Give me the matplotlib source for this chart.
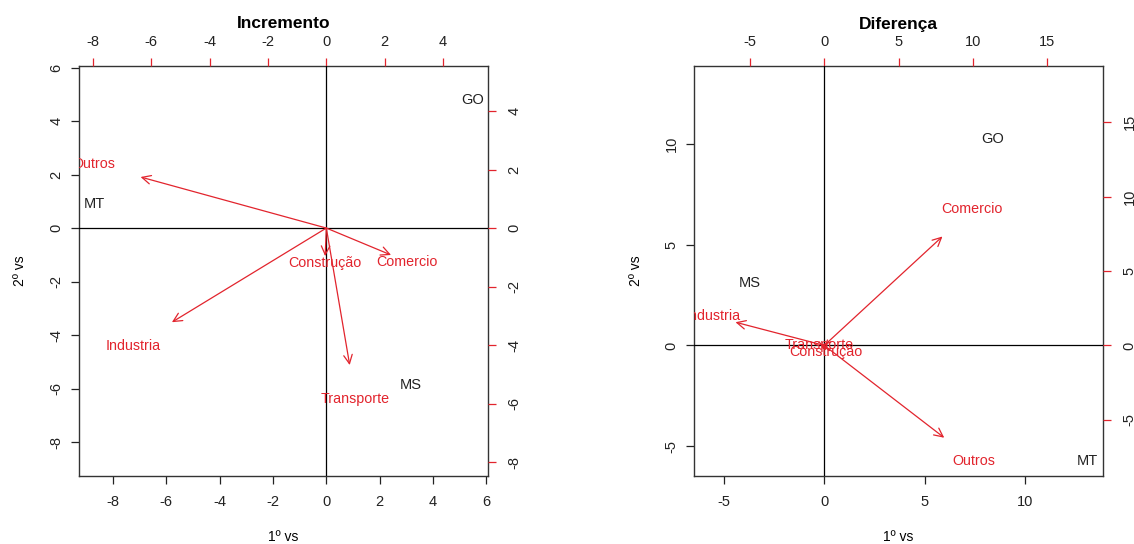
import matplotlib
matplotlib.use("Agg")
import matplotlib.pyplot as plt
import numpy as np

plt.rcParams['font.family'] = ['Liberation Sans', 'DejaVu Sans']
plt.rcParams['axes.unicode_minus'] = False

# scores (black labels) and loadings (red arrows)
states = ["GO", "MT", "MS"]
sectors = ["Comercio", "Construção", "Industria", "Outros", "Transporte"]

inc_scores_x = [5.49, -8.70, 3.18]
inc_scores_y = [4.80, 0.90, -5.85]
inc_load_x = [2.77, -0.05, -6.61, -7.95, 1.00]
inc_load_y = [-1.15, -1.20, -4.02, 2.18, -5.85]

dif_scores_x = [8.38, 13.10, -3.71]
dif_scores_y = [10.23, -5.72, 3.10]
dif_load_x = [9.95, 0.10, -7.47, 10.10, -0.35]
dif_load_y = [9.15, -0.45, 1.95, -7.75, 0.05]

RED = '#e2242d'
W, H = 1134, 544


def unsigned_range(v):
    v = np.asarray(v)
    return np.array([-abs(v.min()), abs(v.max())])


def draw_biplot(fig, rect, title, sx, sy, lx, ly, top_ticks, right_ticks,
                bottom_ticks, left_ticks):
    """
    Draws one biplot the way R's biplot() does it
    """
    rx1, rx2 = unsigned_range(sx), unsigned_range(sy)
    ry1, ry2 = unsigned_range(lx), unsigned_range(ly)
    lim = np.array([min(rx1[0], rx2[0]), max(rx1[1], rx2[1])])
    ratio = max(np.max(ry1 / lim), np.max(ry2 / lim))
    ext = 0.04 * (lim[1] - lim[0])
    lim1 = lim + np.array([-ext, ext])
    lim2 = lim1 * ratio

    left, bottom, width, height = rect
    r = [left / W, 1 - bottom / H, width / W, height / H]

    ax = fig.add_axes(r)
    ax.set_xlim(lim1)
    ax.set_ylim(lim1)
    for s in ax.spines.values():
        s.set_color('#333333')
        s.set_linewidth(1.0)
    for i, name in enumerate(states):
        ax.text(sx[i], sy[i], name, ha='center', va='center', fontsize=10.5,
                color='#222222', clip_on=True)
    ax.set_xticks(bottom_ticks)
    ax.set_yticks(left_ticks)
    ax.tick_params(axis='x', direction='out', length=6, width=0.9, pad=8,
                   labelsize=10.5, colors='#222222')
    ax.tick_params(axis='y', direction='out', length=6, width=0.9, pad=5,
                   labelsize=10.5, colors='#222222', labelrotation=90)
    for lab in ax.get_yticklabels():
        lab.set_va('center')
    ax.set_xlabel("1º vs", fontsize=10, labelpad=15)
    ax.set_ylabel("2º vs", fontsize=10, labelpad=16)
    ax.set_title(title, fontsize=12.5, fontweight='bold', pad=27)

    ax2 = fig.add_axes(r, frameon=False)
    ax2.set_xlim(lim2)
    ax2.set_ylim(lim2)
    ax2.xaxis.tick_top()
    ax2.yaxis.tick_right()
    ax2.set_xticks(top_ticks)
    ax2.set_yticks(right_ticks)
    ax2.tick_params(axis='x', direction='out', length=6, width=0.9, pad=6,
                    labelsize=10.5, color=RED, labelcolor='#222222')
    ax2.tick_params(axis='y', direction='out', length=6, width=0.9, pad=8,
                    labelsize=10.5, color=RED, labelcolor='#222222',
                    labelrotation=90)
    for lab in ax2.get_yticklabels():
        lab.set_va('center')

    ax2.axhline(0, color='black', lw=0.9)
    ax2.axvline(0, color='black', lw=0.9)

    for i, name in enumerate(sectors):
        ax2.annotate("", xy=(lx[i] * 0.8, ly[i] * 0.8), xytext=(0, 0),
                     arrowprops=dict(arrowstyle='->,head_length=0.45,head_width=0.22',
                                     color=RED, lw=0.9, shrinkA=0, shrinkB=0,
                                     mutation_scale=14))
        ax2.text(lx[i], ly[i], name, ha='center', va='center', fontsize=10.3,
                 color=RED, clip_on=True)
    return ax, ax2


fig = plt.figure(figsize=(W / 100, H / 100), dpi=100)

draw_biplot(fig, (79, 476, 409, 410), "Incremento",
            inc_scores_x, inc_scores_y, inc_load_x, inc_load_y,
            top_ticks=[-8, -6, -4, -2, 0, 2, 4],
            right_ticks=[-8, -6, -4, -2, 0, 2, 4],
            bottom_ticks=[-8, -6, -4, -2, 0, 2, 4, 6],
            left_ticks=[-8, -6, -4, -2, 0, 2, 4, 6])

draw_biplot(fig, (694, 476, 409, 410), "Diferença",
            dif_scores_x, dif_scores_y, dif_load_x, dif_load_y,
            top_ticks=[-5, 0, 5, 10, 15],
            right_ticks=[-5, 0, 5, 10, 15],
            bottom_ticks=[-5, 0, 5, 10],
            left_ticks=[-5, 0, 5, 10])

plt.savefig("out.png", dpi=100)
plt.close()
